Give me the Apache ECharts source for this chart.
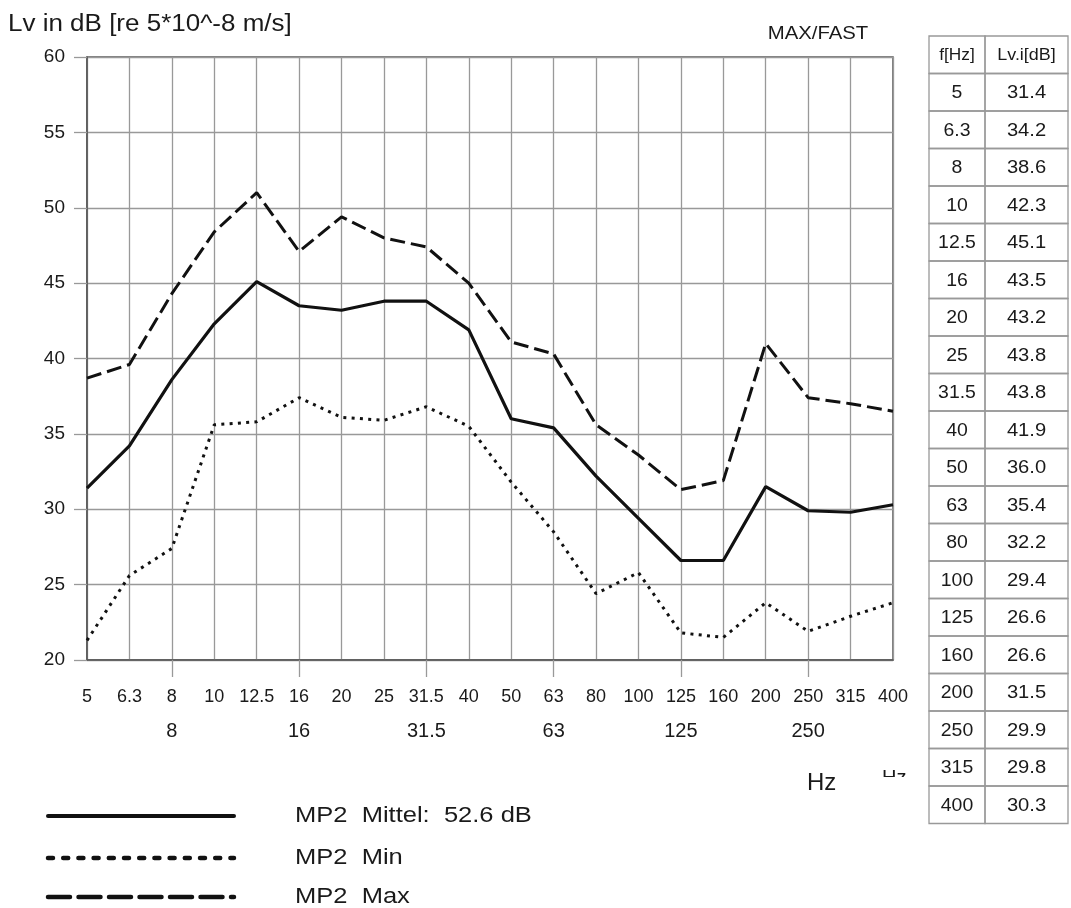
<!DOCTYPE html>
<html><head><meta charset="utf-8">
<script src="https://cdn.jsdelivr.net/npm/echarts@6/dist/echarts.min.js"></script>
<style>html,body{margin:0;padding:0;background:#fff}#c{width:1071px;height:908px}</style>
</head><body><div id="c"></div>
<script>
var freqs = ['5','6.3','8','10','12.5','16','20','25','31.5','40','50','63','80','100','125','160','200','250','315','400'];
var octaveLabels = ['8','16','31.5','63','125','250'];
var mittel = [31.4,34.2,38.6,42.3,45.1,43.5,43.2,43.8,43.8,41.9,36.0,35.4,32.2,29.4,26.6,26.6,31.5,29.9,29.8,30.3];
var minVals = [21.3,25.6,27.4,35.6,35.8,37.4,36.1,35.9,36.8,35.5,31.8,28.5,24.4,25.8,21.8,21.5,23.8,21.9,22.9,23.8];
var maxVals = [38.7,39.6,44.3,48.4,51.0,47.1,49.4,48.0,47.4,45.0,41.1,40.3,35.6,33.6,31.3,31.9,41.0,37.4,37.0,36.5];
var yTicks = {min:20, max:60, step:5};
var titleText = 'Lv in dB [re 5*10^-8 m/s]';
var modeText = 'MAX/FAST';
var unitText = 'Hz';
var tableHead = ['f[Hz]','Lv.i[dB]'];
var legendNames = ['MP2  Mittel:  52.6 dB','MP2  Min','MP2  Max'];

var FONT = '"Liberation Sans", Arial, sans-serif';
var TXT = '#1a1a1a';
var chart = echarts.init(document.getElementById('c'));

var graphics = [];
graphics.push({type:'text', x:8, y:25, scaleX:1.13, style:{text:titleText, font:'23px '+FONT, fill:TXT, textVerticalAlign:'middle'}});
graphics.push({type:'text', x:818, y:34, scaleX:1.07, style:{text:modeText, font:'19px '+FONT, fill:TXT, textAlign:'center', textVerticalAlign:'middle'}});
graphics.push({type:'text', x:807, y:783, style:{text:unitText, font:'24px '+FONT, fill:TXT, textVerticalAlign:'middle'}});
graphics.push({type:'text', x:882, y:778, z:10, style:{text:unitText, font:'20px '+FONT, fill:TXT, textVerticalAlign:'middle'}});
graphics.push({type:'rect', shape:{x:878,y:777,width:34,height:16}, z:11, style:{fill:'#fff'}});

// table
var tx = 929, c1 = 56, c2 = 83, ty = 36, rh = 37.5;
var rows = [tableHead].concat(freqs.map(function(f,i){return [f, mittel[i].toFixed(1)];}));
rows.forEach(function(r, i){
  var y = ty + i*rh;
  graphics.push({type:'rect', shape:{x:tx,y:y,width:c1,height:rh}, style:{fill:'none', stroke:'#999', lineWidth:1.3}});
  graphics.push({type:'rect', shape:{x:tx+c1,y:y,width:c2,height:rh}, style:{fill:'none', stroke:'#999', lineWidth:1.3}});
  var fs = i === 0 ? 16 : 18;
  graphics.push({type:'text', x:tx+c1/2, y:y+rh/2+1, scaleX:1.08, style:{text:r[0], font:fs+'px '+FONT, fill:TXT, textAlign:'center', textVerticalAlign:'middle'}});
  graphics.push({type:'text', x:tx+c1+c2/2, y:y+rh/2+1, scaleX:1.12, style:{text:r[1], font:fs+'px '+FONT, fill:TXT, textAlign:'center', textVerticalAlign:'middle'}});
});

// legend
var legStyles = [
  {lineWidth:4, lineDash:null},
  {lineWidth:4.5, lineDash:[5,10.2]},
  {lineWidth:4.5, lineDash:[22,8.5]}
];
var legY = [816, 858, 897];
legendNames.forEach(function(n,i){
  graphics.push({type:'line', shape:{x1:48,y1:legY[i],x2:234,y2:legY[i]}, style:{stroke:'#111', lineWidth:legStyles[i].lineWidth, lineDash:legStyles[i].lineDash, lineCap:'round'}});
  graphics.push({type:'text', x:295, y:legY[i], scaleX:1.16, style:{text:n, font:'22px '+FONT, fill:TXT, textVerticalAlign:'middle'}});
});

var octIdx = freqs.map(function(f){return octaveLabels.indexOf(f)>=0;});

chart.setOption({
  animation:false,
  backgroundColor:'#fff',
  grid:{left:87, right:178, top:57, bottom:248, show:true, borderColor:'#555', borderWidth:1.5},
  xAxis:[{
    type:'category', data:freqs, boundaryGap:false,
    axisLine:{lineStyle:{color:'#555', width:1.5}},
    axisTick:{show:true, length:17, interval:function(i){return octIdx[i];}, lineStyle:{color:'#999', width:1.3}},
    axisLabel:{interval:0, margin:28, fontSize:18, color:TXT, fontFamily:FONT},
    splitLine:{show:true, interval:0, lineStyle:{color:'#999', width:1.3}}
  },{
    type:'category', data:freqs, boundaryGap:false, position:'bottom',
    axisLine:{show:false}, axisTick:{show:false},
    axisLabel:{interval:function(i){return octIdx[i];}, margin:61, fontSize:20, color:TXT, fontFamily:FONT},
    splitLine:{show:false}
  }],
  yAxis:{
    type:'value', min:yTicks.min, max:yTicks.max, interval:yTicks.step,
    axisLine:{show:true, lineStyle:{color:'#555', width:1.5}},
    axisTick:{show:true, length:13, lineStyle:{color:'#999', width:1.3}},
    axisLabel:{margin:22, fontSize:19, color:TXT, fontFamily:FONT},
    splitLine:{show:true, lineStyle:{color:'#999', width:1.3}}
  },
  series:[
    {type:'line', name:legendNames[0], data:mittel, symbol:'none', lineStyle:{color:'#111', width:3.2}, z:5},
    {type:'line', name:legendNames[1], data:minVals, symbol:'none', lineStyle:{color:'#111', width:3, type:[3,5.3]}, z:4},
    {type:'line', name:legendNames[2], data:maxVals, symbol:'none', lineStyle:{color:'#111', width:3, type:[15,6]}, z:4}
  ],
  graphic:graphics
});
</script></body></html>
